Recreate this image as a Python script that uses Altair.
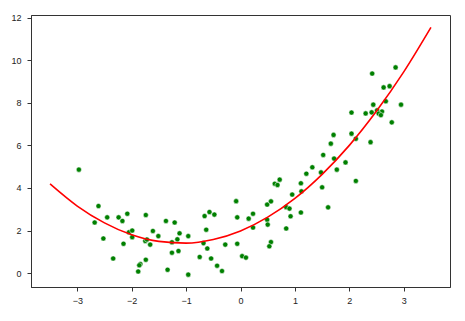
import altair as alt
import pandas as pd

# scatter points
xs = [-2.97, -2.61, -2.68, -2.45, -2.52, -2.24, -2.17, -2.08, -2.34, -2.15,
      -2.05, -1.99, -1.99, -1.74, -1.75, -1.72, -1.66, -1.61, -1.51, -1.74,
      -1.84, -1.86, -1.88, -1.37, -1.21, -1.26, -1.16, -1.12, -1.26, -1.14,
      -0.96, -1.34, -0.96, -0.66, -0.57, -0.48, -0.63, -0.68, -0.61, -0.75,
      -0.54, -0.43, -0.34, -0.28, -0.08, -0.06, -0.06, 0.03, 0.10, 0.15,
      0.23, 0.23, 0.49, 0.56, 0.49, 0.50, 0.56, 0.53, 0.63, 0.68,
      0.72, 0.84, 0.90, 0.92, 0.84, 0.95, 1.11, 1.12, 1.11, 1.21,
      1.32, 1.48, 1.50, 1.52, 1.66, 1.61, 1.72, 1.77, 1.93, 2.12,
      1.71, 2.04, 2.12, 2.04, 2.39, 2.30, 2.41, 2.51, 2.60, 2.54,
      2.58, 2.44, 2.67, 2.95, 2.78, 2.63, 2.74, 2.42, 2.85]
ys = [4.86, 3.15, 2.38, 2.62, 1.63, 2.62, 2.45, 2.79, 0.69, 1.38,
      1.92, 2.00, 1.69, 2.73, 1.51, 1.58, 1.34, 1.98, 1.74, 0.63,
      0.43, 0.37, 0.08, 2.45, 2.38, 1.45, 1.59, 1.87, 0.96, 1.04,
      1.74, 0.16, -0.07, 2.68, 2.87, 2.75, 2.04, 1.41, 1.16, 0.76,
      0.69, 0.35, 0.10, 1.34, 3.38, 2.62, 1.38, 0.80, 0.73, 2.56,
      2.79, 2.14, 3.22, 3.37, 2.51, 2.28, 1.46, 1.26, 4.20, 4.14,
      4.39, 3.10, 3.03, 2.67, 2.10, 3.69, 4.22, 3.84, 2.85, 4.67,
      4.97, 4.73, 4.03, 5.55, 6.08, 3.09, 5.38, 4.86, 5.20, 4.33,
      6.49, 6.55, 6.31, 7.54, 6.15, 7.50, 7.55, 7.64, 7.59, 7.49,
      7.42, 7.91, 8.07, 7.91, 7.08, 8.72, 8.78, 9.37, 9.66]

# red curve
curve_x = [-3.5, -3.0, -2.5, -2.0, -1.5, -1.0, -0.5, 0.0, 0.5, 1.0, 1.5, 2.0, 2.5, 3.0, 3.5]
curve_y = [4.19, 3.15, 2.36, 1.80, 1.49, 1.41, 1.58, 1.98, 2.63, 3.51, 4.64, 6.00, 7.61, 9.45, 11.54]

x_ticks = [-3, -2, -1, 0, 1, 2, 3]
y_ticks = [0, 2, 4, 6, 8, 10, 12]

pts = pd.DataFrame({"x": xs, "y": ys})
crv = pd.DataFrame({"x": curve_x, "y": curve_y})

xscale = alt.Scale(domain=[-3.85, 3.85], nice=False, zero=False)
yscale = alt.Scale(domain=[-0.65, 12.12], nice=False, zero=False)

xaxis = alt.Axis(values=x_ticks, format="d", title=None, grid=False, tickSize=4, labelPadding=5,
                 domainColor="#333", tickColor="#333", labelColor="#222",
                 labelFont="Liberation Sans", labelFontSize=9)
yaxis = alt.Axis(values=y_ticks, format="d", title=None, grid=False, tickSize=4, labelPadding=6,
                 domainColor="#333", tickColor="#333", labelColor="#222",
                 labelFont="Liberation Sans", labelFontSize=9)

scatter = alt.Chart(pts).mark_point(
    filled=True, color="#008000", size=26, opacity=1,
    stroke="white", strokeWidth=0.5
).encode(
    x=alt.X("x:Q", scale=xscale, axis=xaxis),
    y=alt.Y("y:Q", scale=yscale, axis=yaxis),
)

line = alt.Chart(crv).mark_line(
    color="#ff0000", strokeWidth=1.6, interpolate="monotone"
).encode(
    x=alt.X("x:Q", scale=xscale),
    y=alt.Y("y:Q", scale=yscale),
)

chart = alt.layer(scatter, line).properties(
    width=419, height=272,
    padding={"left": 31, "top": 15, "right": 15, "bottom": 34},
    autosize=alt.AutoSizeParams(type="none"),
    background="white",
).configure_view(stroke="#333", strokeWidth=1)

chart.save("out.html", embed_options={"renderer": "svg", "actions": False})
